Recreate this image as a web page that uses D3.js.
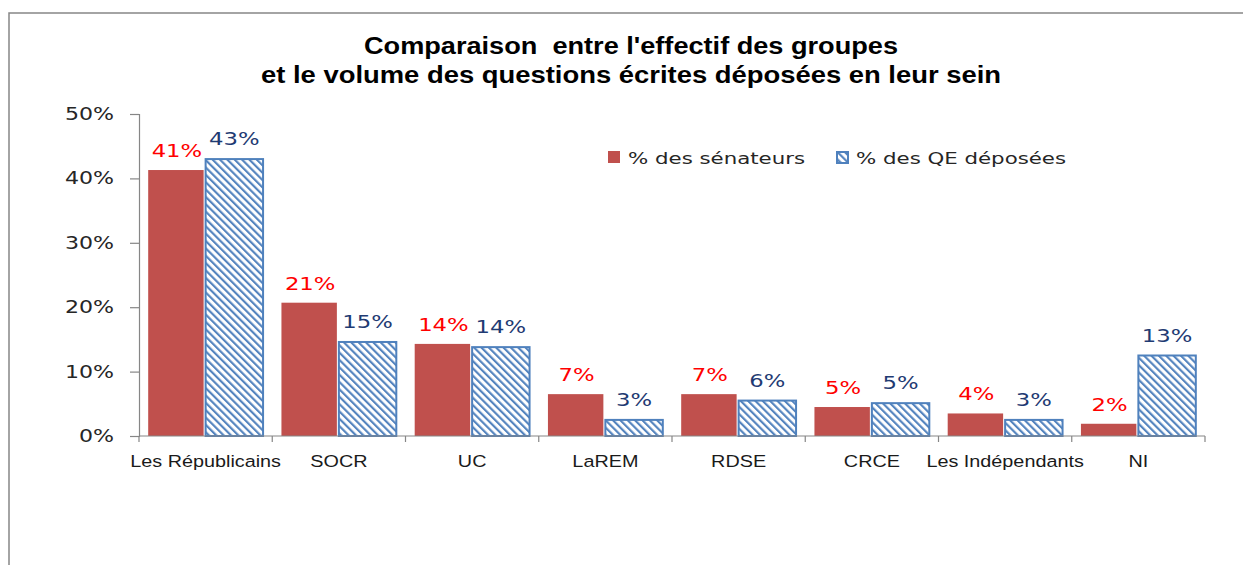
<!DOCTYPE html>
<html lang="fr">
<head>
<meta charset="UTF-8">
<script src="https://cdn.jsdelivr.net/npm/d3@7/dist/d3.min.js"></script>
<title>Comparaison groupes / questions écrites</title>
<style>
    body { margin: 0; background: #ffffff; }
    svg { display: block; }
</style>
</head>
<body>
<div id="chart"></div>
<script>
    // chart values
    const groups = ["Les Républicains", "SOCR", "UC", "LaREM", "RDSE", "CRCE", "Les Indépendants", "NI"];
    const seriesNames = ["% des sénateurs", "% des QE déposées"];
    const senateurs = [0.413, 0.207, 0.143, 0.065, 0.065, 0.045, 0.035, 0.019];
    const questions = [0.430, 0.146, 0.138, 0.025, 0.055, 0.051, 0.025, 0.125];
    const yTicks = [0, 0.1, 0.2, 0.3, 0.4, 0.5];
    const titleLines = ["Comparaison  entre l'effectif des groupes", "et le volume des questions écrites déposées en leur sein"];

    const width = 1243, height = 565;
    const redFill = "#C0504D", blueLine = "#4F81BD";
    const axisGrey = "#868686";
    const sx = 1.3; // horizontal stretch of the original picture's text

    const svg = d3.select("#chart").append("svg")
        .attr("width", width)
        .attr("height", height);

    // hatch for the QE series
    const defs = svg.append("defs");
    const hatch = defs.append("pattern")
        .attr("id", "hatch")
        .attr("patternUnits", "userSpaceOnUse")
        .attr("width", 5.2)
        .attr("height", 5.2)
        .attr("patternTransform", "rotate(-45)");
    hatch.append("rect").attr("width", 5.2).attr("height", 5.2).attr("fill", "#ffffff");
    hatch.append("line")
        .attr("x1", 1.1).attr("y1", 0).attr("x2", 1.1).attr("y2", 5.2)
        .attr("stroke", blueLine).attr("stroke-width", 2.1);

    // frame of the chart area
    svg.append("path")
        .attr("d", `M9,${height} L9,13 L${width},13`)
        .attr("fill", "none")
        .attr("stroke", axisGrey)
        .attr("stroke-width", 1.5);

    // title
    svg.append("text")
        .attr("x", 631)
        .attr("text-anchor", "middle")
        .style("font-family", "'Liberation Sans', Arial, sans-serif")
        .style("font-weight", "bold")
        .style("font-size", "23px")
        .style("white-space", "pre")
        .attr("fill", "#000")
        .selectAll("tspan")
        .data(titleLines)
        .enter().append("tspan")
        .attr("x", 631)
        .attr("y", (d, i) => 54 + i * 29)
        .attr("textLength", (d, i) => i === 0 ? 534 : 740)
        .attr("lengthAdjust", "spacingAndGlyphs")
        .text(d => d);

    const x0 = d3.scaleBand().domain(groups).range([139, 1205]).padding(0);
    const x1 = d3.scaleBand().domain(seriesNames).range([0, x0.bandwidth()])
        .paddingInner(0).paddingOuter(0.16);
    const y = d3.scaleLinear().domain([0, 0.5]).range([436, 114]);

    // y axis
    const yAxis = svg.append("g")
        .attr("transform", "translate(139,0)")
        .call(d3.axisLeft(y).tickValues(yTicks).tickSize(9).tickPadding(0).tickFormat(() => ""));
    yAxis.selectAll("path, line").attr("stroke", axisGrey).attr("stroke-width", 1.2);

    const labelFont = "'DejaVu Sans', Verdana, sans-serif";
    const stretched = (g, px, py, txt, size, color, anchor) => {
        g.append("text")
            .attr("transform", `translate(${px},${py}) scale(${sx},1)`)
            .attr("text-anchor", anchor)
            .style("font-family", labelFont)
            .style("font-size", size + "px")
            .attr("fill", color)
            .text(txt);
    };

    const yLabels = svg.append("g");
    yTicks.forEach(t => stretched(yLabels, 114, y(t) + 6, d3.format(".0%")(t), 17, "#262626", "end"));

    // bars
    const series = [senateurs, questions];
    const barG = svg.append("g");
    groups.forEach((g, i) => {
        series.forEach((vals, s) => {
            const bx = x0(g) + x1(seriesNames[s]);
            const bw = x1.bandwidth();
            if (s === 0) {
                barG.append("rect")
                    .attr("x", bx).attr("y", y(vals[i]))
                    .attr("width", bw - 2).attr("height", y(0) - y(vals[i]))
                    .attr("fill", redFill);
            } else {
                barG.append("rect")
                    .attr("x", bx).attr("y", y(vals[i]))
                    .attr("width", bw).attr("height", y(0) - y(vals[i]))
                    .attr("fill", "url(#hatch)")
                    .attr("stroke", blueLine)
                    .attr("stroke-width", 2);
            }
        });
    });

    // x axis
    const xAxisG = svg.append("g");
    xAxisG.append("line")
        .attr("x1", x0.range()[0]).attr("x2", x0.range()[1])
        .attr("y1", y(0)).attr("y2", y(0))
        .attr("stroke", axisGrey).attr("stroke-width", 1.2);
    xAxisG.selectAll(".tk")
        .data(groups.concat([null]))
        .enter().append("line")
        .attr("x1", (d, i) => x0.range()[0] + i * x0.step())
        .attr("x2", (d, i) => x0.range()[0] + i * x0.step())
        .attr("y1", y(0)).attr("y2", y(0) + 6)
        .attr("stroke", axisGrey).attr("stroke-width", 1.2);

    groups.forEach(g => {
        svg.append("text")
            .attr("transform", `translate(${x0(g) + x0.bandwidth() / 2},467) scale(1.2,1)`)
            .attr("text-anchor", "middle")
            .style("font-family", "'Liberation Sans', Arial, sans-serif")
            .style("font-size", "16.5px")
            .attr("fill", "#1a1a1a")
            .text(g);
    });

    // data labels
    const fmt = d3.format(".0%");
    const lab = svg.append("g");
    groups.forEach((g, i) => {
        const rx = x0(g) + x1(seriesNames[0]) + x1.bandwidth() / 2;
        const bxm = x0(g) + x1(seriesNames[1]) + x1.bandwidth() / 2;
        stretched(lab, rx, y(senateurs[i]) - 13, fmt(senateurs[i]), 17.5, "#FF0000", "middle");
        stretched(lab, bxm, y(questions[i]) - 14, fmt(questions[i]), 17.5, "#1F3B73", "middle");
    });

    // legend
    const legend = svg.append("g");
    legend.append("rect").attr("x", 608).attr("y", 151).attr("width", 12).attr("height", 12).attr("fill", redFill);
    stretched(legend, 628, 164, seriesNames[0], 16.4, "#262626", "start");
    legend.append("rect").attr("x", 837).attr("y", 152).attr("width", 11).attr("height", 11)
        .attr("fill", "url(#hatch)").attr("stroke", blueLine).attr("stroke-width", 2);
    stretched(legend, 856, 164, seriesNames[1], 16.4, "#262626", "start");
</script>
</body>
</html>
